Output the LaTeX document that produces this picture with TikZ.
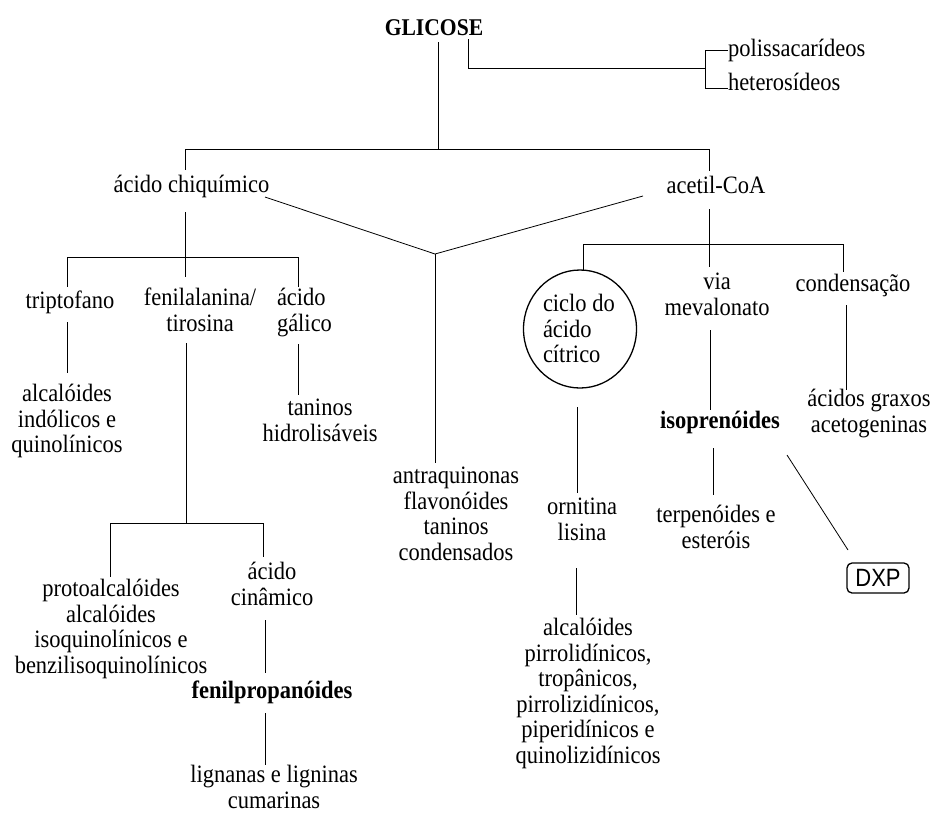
\documentclass[tikz,border=0pt]{standalone}
\usepackage{fontspec}
\setmainfont{Liberation Serif}[FakeStretch=0.9]
\newfontfamily\dxpfont{Liberation Sans}[FakeStretch=0.88]
\begin{document}
\begin{tikzpicture}[x=1pt,y=-1pt,
  txt/.style={inner sep=0pt,outer sep=0pt,font=\fontsize{25}{25.5}\selectfont,align=center,
    execute at begin node=\strut,execute at end node=\strut},
  txtl/.style={txt,align=left},
  bld/.style={txt,font=\fontsize{25}{25.5}\selectfont\bfseries},
  ln/.style={line width=0.8pt,black},
  ring/.style={line width=1.3pt,black},
  dxpbox/.style={draw,line width=1.3pt,rounded corners=5pt,minimum width=62pt,minimum height=30pt,inner sep=0pt,font=\fontsize{25}{26}\selectfont\dxpfont}]
\useasboundingbox (0,0) rectangle (935,815);

% ---------- nodes ----------
\node[bld,anchor=base,font=\fontsize{24}{25.5}\selectfont\bfseries] (glic) at (434,35) {GLICOSE};
\node[txt,anchor=base west] (polis) at (728,56) {polissacarídeos};
\node[txt,anchor=base west] (heter) at (728,90) {heterosídeos};

\node[txt,anchor=base] (chiq) at (191.5,192) {ácido chiquímico};
\node[txt,anchor=base] (acet) at (716,193) {acetil-CoA};

\node[txt,anchor=base] (trip) at (70,308) {triptofano};
\node[txt,anchor=north] (fenal) at (200,288.15) {fenilalanina/\\tirosina};
\node[txtl,anchor=north west] (galico) at (277,288.15) {ácido\\gálico};
\node[txtl,anchor=north west] (ciclo) at (543,294.15) {ciclo do\\ácido\\cítrico};
\node[txt,anchor=north] (via) at (717,273.15) {via\\mevalonato};
\node[txt,anchor=base] (cond) at (853,291) {condensação};

\node[txt,anchor=north] (alcind) at (67,384.15) {alcalóides\\indólicos e\\quinolínicos};
\node[txt,anchor=north] (tanh) at (320,399.15) {taninos\\hidrolisáveis};
\node[txt,anchor=north] (acgr) at (869,389.15) {ácidos graxos\\acetogeninas};
\node[bld,anchor=base] (isop) at (720,428) {isoprenóides};

\node[txt,anchor=north] (antr) at (456,467.15) {antraquinonas\\flavonóides\\taninos\\condensados};
\node[txt,anchor=north] (orn) at (582,498.15) {ornitina\\lisina};
\node[txt,anchor=north] (terp) at (716,505.15) {terpenóides e\\esteróis};
\node[dxpbox] (dxp) at (878,578) {DXP};

\node[txt,anchor=north] (proto) at (111,579.15) {protoalcalóides\\alcalóides\\isoquinolínicos e\\benzilisoquinolínicos};
\node[txt,anchor=north] (cinam) at (272,562.15) {ácido\\cinâmico};
\node[bld,anchor=base] (fenil) at (272,698) {fenilpropanóides};
\node[txt,anchor=north] (alcp) at (588,618.15) {alcalóides\\pirrolidínicos,\\tropânicos,\\pirrolizidínicos,\\piperidínicos e\\quinolizidínicos};
\node[txt,anchor=north] (lign) at (274,765.15) {lignanas e ligninas\\cumarinas};

% circle round "ciclo do ácido cítrico"
\draw[ring] (580,329) ellipse [x radius=56.5pt, y radius=59pt];

% ---------- coordinates ----------
\coordinate (gA) at (438,42);
\coordinate (gB) at (438,149);
\coordinate (hL) at (185,149);
\coordinate (hR) at (709,149);
\coordinate (chiqTop) at (185,170);
\coordinate (acetTop) at (709,171);

\coordinate (gC) at (468,39);
\coordinate (gD) at (468,68);
\coordinate (brM) at (705,68);
\coordinate (brT) at (705,50);
\coordinate (brB) at (705,88);
\coordinate (tkT) at (728,50);
\coordinate (tkB) at (728,88);

\coordinate (chiqBot) at (185,212);
\coordinate (c1) at (185,257);
\coordinate (c1L) at (67,257);
\coordinate (c1R) at (298,257);
\coordinate (tripTop) at (67,287);
\coordinate (fenalTop) at (185,277);
\coordinate (galTop) at (298,287);

\coordinate (chiqR) at (265,197);
\coordinate (acetL) at (643,196);
\coordinate (jY) at (435,254);
\coordinate (antrTop) at (435,463);

\coordinate (acetBot) at (709,209);
\coordinate (a1) at (709,244);
\coordinate (a1L) at (583,244);
\coordinate (a1R) at (843,244);
\coordinate (cicTop) at (583,270);
\coordinate (viaTop) at (709,267);
\coordinate (condTop) at (843,272);

\coordinate (tripBot) at (67,322);
\coordinate (alcTop) at (67,373);
\coordinate (fenalBot) at (186,343);
\coordinate (f1) at (186,523);
\coordinate (f1L) at (110,523);
\coordinate (f1R) at (263,523);
\coordinate (protoTop) at (110,577);
\coordinate (cinTop) at (263,557);
\coordinate (galBot) at (298,344);
\coordinate (tanTop) at (298,395);

\coordinate (cicBot) at (577,407);
\coordinate (ornTop) at (577,493);
\coordinate (viaBot) at (710,330);
\coordinate (isopTop) at (710,410);
\coordinate (condBot) at (846,305);
\coordinate (acgrTop) at (846,390);
\coordinate (isopBot) at (713,448);
\coordinate (terpTop) at (713,495);
\coordinate (isopR) at (787,455);
\coordinate (dxpTop) at (848,550);
\coordinate (ornBot) at (576,568);
\coordinate (alcpTop) at (576,615);
\coordinate (cinBot) at (265,620);
\coordinate (fenilTop) at (265,673);
\coordinate (fenilBot) at (265,713);
\coordinate (lignTop) at (265,765);

% ---------- connectors ----------
\draw[ln] (gA) -- (gB);
\draw[ln] (hL) -- (hR);
\draw[ln] (hL) -- (chiqTop);
\draw[ln] (hR) -- (acetTop);
\draw[ln] (gC) -- (gD) -- (brM);
\draw[ln] (tkT) -- (brT) -- (brB) -- (tkB);

\draw[ln] (chiqBot) -- (c1);
\draw[ln] (c1L) -- (c1R);
\draw[ln] (c1L) -- (tripTop);
\draw[ln] (c1) -- (fenalTop);
\draw[ln] (c1R) -- (galTop);

\draw[ln] (chiqR) -- (jY) -- (acetL);
\draw[ln] (jY) -- (antrTop);

\draw[ln] (acetBot) -- (a1);
\draw[ln] (a1L) -- (a1R);
\draw[ln] (a1L) -- (cicTop);
\draw[ln] (a1) -- (viaTop);
\draw[ln] (a1R) -- (condTop);

\draw[ln] (tripBot) -- (alcTop);
\draw[ln] (fenalBot) -- (f1);
\draw[ln] (f1L) -- (f1R);
\draw[ln] (f1L) -- (protoTop);
\draw[ln] (f1R) -- (cinTop);
\draw[ln] (galBot) -- (tanTop);

\draw[ln] (cicBot) -- (ornTop);
\draw[ln] (viaBot) -- (isopTop);
\draw[ln] (condBot) -- (acgrTop);
\draw[ln] (isopBot) -- (terpTop);
\draw[ln] (isopR) -- (dxpTop);
\draw[ln] (ornBot) -- (alcpTop);
\draw[ln] (cinBot) -- (fenilTop);
\draw[ln] (fenilBot) -- (lignTop);
\end{tikzpicture}
\end{document}
